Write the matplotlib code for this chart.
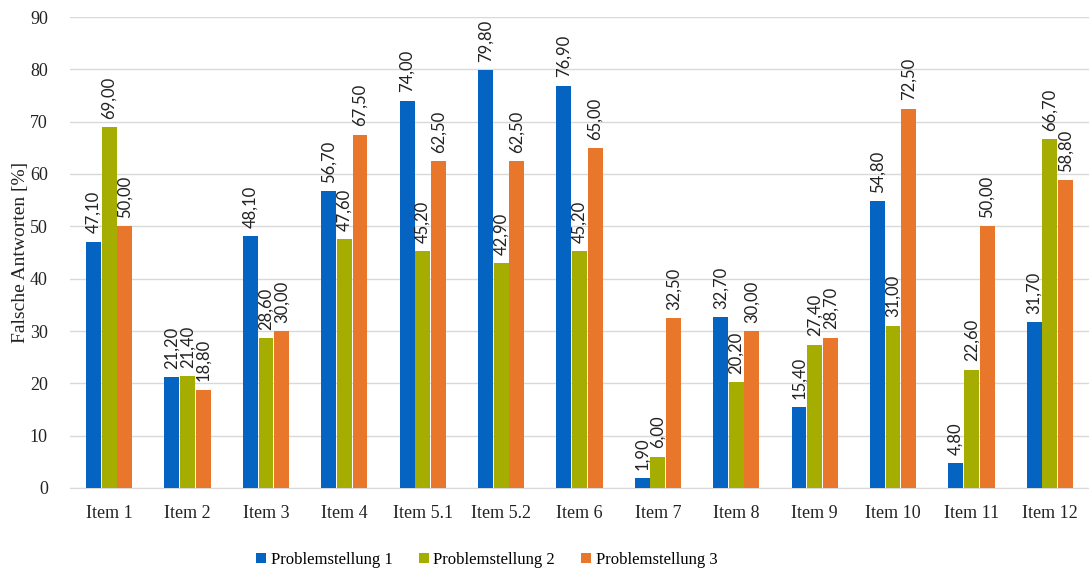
import matplotlib.pyplot as plt
import numpy as np

items = ["Item 1", "Item 2", "Item 3", "Item 4", "Item 5.1", "Item 5.2", "Item 6",
         "Item 7", "Item 8", "Item 9", "Item 10", "Item 11", "Item 12"]
p1 = [47.1, 21.2, 48.1, 56.7, 74.0, 79.8, 76.9, 1.9, 32.7, 15.4, 54.8, 4.8, 31.7]
p2 = [69.0, 21.4, 28.6, 47.6, 45.2, 42.9, 45.2, 6.0, 20.2, 27.4, 31.0, 22.6, 66.7]
p3 = [50.0, 18.8, 30.0, 67.5, 62.5, 62.5, 65.0, 32.5, 30.0, 28.7, 72.5, 50.0, 58.8]
series_names = ["Problemstellung 1", "Problemstellung 2", "Problemstellung 3"]
colors = ["#0563C1", "#A5AE00", "#E8762B"]

plt.rcParams['font.family'] = ['Liberation Serif', 'DejaVu Serif']

fig = plt.figure(figsize=(10.89, 5.72), dpi=100)
ax = fig.add_axes([70/1089, 84/572, 1019/1089, 471/572])

x = np.arange(len(items))
w = 0.19
for i, (vals, name, c) in enumerate(zip([p1, p2, p3], series_names, colors)):
    pos = x + (i - 1) * 0.2
    ax.bar(pos, vals, w, color=c, label=name, zorder=3)
    for px, v in zip(pos, vals):
        ax.annotate(f"{v:.2f}".replace(".", ","), (px, v), xytext=(0, 6),
                    textcoords="offset points", rotation=90, ha="center",
                    va="bottom", fontsize=12, color="#222222", family="Lato")

ax.set_xlim(-0.5, len(items) - 0.5)
ax.set_ylim(0, 90)
ax.set_yticks(range(0, 91, 10))
ax.set_xticks(x)
ax.set_xticklabels(items)
ax.tick_params(axis="both", length=0, labelsize=13, colors="#222222")
ax.tick_params(axis="y", pad=16)
ax.tick_params(axis="x", pad=12)
ax.yaxis.grid(True, color="#d9d9d9", linewidth=1, zorder=0)
for s in ["top", "right", "left"]:
    ax.spines[s].set_visible(False)
ax.spines["bottom"].set_color("#d9d9d9")
ax.set_ylabel("Falsche Antworten [%]", fontsize=14, color="#222222")
ax.yaxis.set_label_coords(-0.040, 0.5)

fig.legend(loc="center", bbox_to_anchor=(0.447, 12/572), ncol=3, frameon=False,
           fontsize=12, handlelength=0.6, handleheight=0.6, handletextpad=0.25,
           columnspacing=1.6)

fig.savefig("out.png", dpi=100)
